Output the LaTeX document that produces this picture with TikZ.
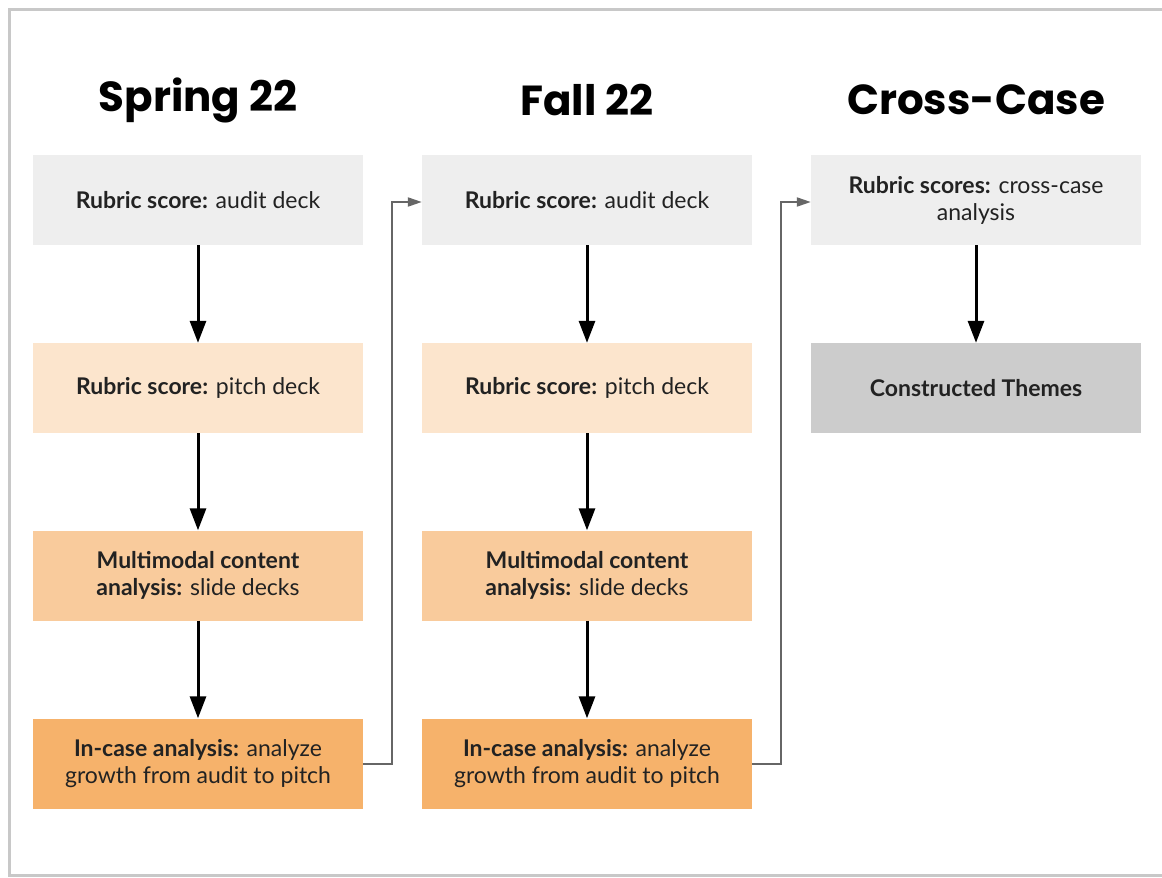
\documentclass[tikz,border=0pt]{standalone}
\usepackage{fontspec}
\setmainfont{Lato}
\newfontfamily\titlefont{Poppins}
\usetikzlibrary{arrows.meta}
\definecolor{frame}{HTML}{C8C8C8}
\definecolor{rowa}{HTML}{EEEEEE}
\definecolor{rowb}{HTML}{FCE5CD}
\definecolor{rowc}{HTML}{F9CB9C}
\definecolor{rowd}{HTML}{F6B26B}
\definecolor{themes}{HTML}{CCCCCC}
\definecolor{conn}{HTML}{666666}
\definecolor{txt}{HTML}{222222}
\tikzset{
  stepbox/.style={minimum width=330pt, minimum height=90pt, inner sep=0pt, align=center,
    text=txt, font=\fontsize{23}{27}\selectfont},
  coltitle/.style={font=\titlefont\fontsize{42}{48}\selectfont\bfseries, text=black, inner sep=0pt},
  flowarrow/.style={line width=3pt, black, -{Triangle[width=16pt,length=22pt]}},
  linkarrow/.style={line width=2pt, conn, -{Triangle[width=9pt,length=14pt]}},
}
\begin{document}
\begin{tikzpicture}[x=1pt,y=-1pt]
\useasboundingbox (0,0) rectangle (1162,878);
\fill[white] (0,0) rectangle (1162,878);
\draw[frame, line width=3pt] (1162,9.5) -- (9.5,9.5) -- (9.5,875.5) -- (1162,875.5);

\node[coltitle] (t1) at (198,100) {Spring 22};
\node[coltitle] (t2) at (587,100) {Fall 22};
\node[coltitle] (t3) at (976,100) {Cross-Case};

\node[stepbox, fill=rowa] (s1) at (198,200) {\textbf{Rubric score:} audit deck};
\node[stepbox, fill=rowb] (s2) at (198,388) {\textbf{Rubric score:} pitch deck};
\node[stepbox, fill=rowc] (s3) at (198,575.5) {\textbf{Multimodal content}\\\textbf{analysis:} slide decks};
\node[stepbox, fill=rowd] (s4) at (198,763.5) {\textbf{In-case analysis:} analyze\\growth from audit to pitch};

\node[stepbox, fill=rowa] (f1) at (587,200) {\textbf{Rubric score:} audit deck};
\node[stepbox, fill=rowb] (f2) at (587,388) {\textbf{Rubric score:} pitch deck};
\node[stepbox, fill=rowc] (f3) at (587,575.5) {\textbf{Multimodal content}\\\textbf{analysis:} slide decks};
\node[stepbox, fill=rowd] (f4) at (587,763.5) {\textbf{In-case analysis:} analyze\\growth from audit to pitch};

\node[stepbox, fill=rowa] (c1) at (976,200) {\textbf{Rubric scores:} cross-case\\analysis};
\node[stepbox, fill=themes] (c2) at (976,388) {\textbf{Constructed Themes}};

\draw[flowarrow] (s1) -- (s2);
\draw[flowarrow] (s2) -- (s3);
\draw[flowarrow] (s3) -- (s4);
\draw[flowarrow] (f1) -- (f2);
\draw[flowarrow] (f2) -- (f3);
\draw[flowarrow] (f3) -- (f4);
\draw[flowarrow] (c1) -- (c2);

\draw[linkarrow] (s4.east) -- ++(29,0) |- ([yshift=-2pt]f1.west);
\draw[linkarrow] (f4.east) -- ++(29,0) |- ([yshift=-2pt]c1.west);
\end{tikzpicture}
\end{document}
